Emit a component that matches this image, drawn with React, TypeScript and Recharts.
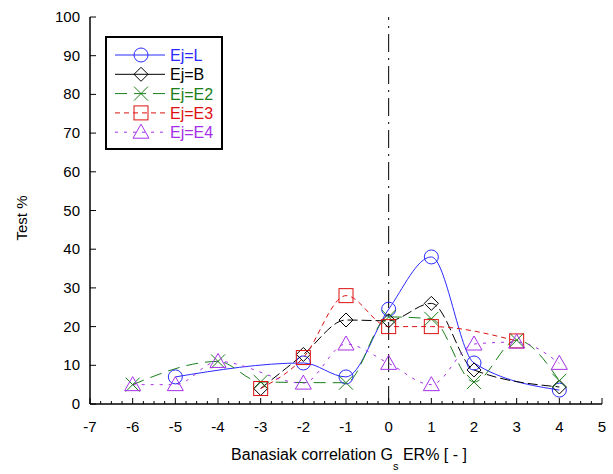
import React from 'react';
import { LineChart, XAxis, YAxis, Line, ReferenceLine } from 'recharts';

// values
const xTicks = [-7, -6, -5, -4, -3, -2, -1, 0, 1, 2, 3, 4, 5];
const yTicks = [0, 10, 20, 30, 40, 50, 60, 70, 80, 90, 100];

const ejL = [
  { x: -5, y: 7 }, { x: -2, y: 10.6 }, { x: -1, y: 7 }, { x: 0, y: 24.5 },
  { x: 1, y: 38 }, { x: 2, y: 10.6 }, { x: 4, y: 3.6 },
];
const ejB = [
  { x: -3, y: 4 }, { x: -2, y: 12.8 }, { x: -1, y: 21.7 }, { x: 0, y: 21.5 },
  { x: 1, y: 26 }, { x: 2, y: 8.8 }, { x: 4, y: 4.4 },
];
const ejE2 = [
  { x: -6, y: 5 }, { x: -4, y: 11 }, { x: -3, y: 5.7 }, { x: -1, y: 5.5 },
  { x: 0, y: 22.5 }, { x: 1, y: 22 }, { x: 2, y: 5.7 }, { x: 3, y: 16.5 }, { x: 4, y: 6 },
];
const ejE3 = [
  { x: -3, y: 4 }, { x: -2, y: 12 }, { x: -1, y: 28 }, { x: 0, y: 20 },
  { x: 1, y: 20 }, { x: 3, y: 16.3 },
];
const ejE4 = [
  { x: -6, y: 5 }, { x: -5, y: 5 }, { x: -4, y: 11 }, { x: -2, y: 5.4 },
  { x: -1, y: 15.5 }, { x: 0, y: 10.5 }, { x: 1, y: 5 }, { x: 2, y: 15.5 },
  { x: 3, y: 16 }, { x: 4, y: 10.5 },
];

// minor ticks: quarters on the bottom axis, halves on the top one
const bottomTicks: number[] = [];
for (let i = xTicks[0] * 4; i <= xTicks[xTicks.length - 1] * 4; i++) bottomTicks.push(i / 4);
const topTicks: number[] = [];
for (let i = xTicks[0] * 2; i <= xTicks[xTicks.length - 1] * 2; i++) topTicks.push(i / 2);

const FONT = '"Liberation Sans", Arial, sans-serif';

type Shape = 'circle' | 'diamond' | 'x' | 'square' | 'triangle';

const Marker = ({ shape, cx, cy, color }: { shape: Shape; cx: number; cy: number; color: string }) => {
  const s = 7;
  switch (shape) {
    case 'circle':
      return <circle cx={cx} cy={cy} r={s} fill="none" stroke={color} strokeWidth={1} />;
    case 'diamond':
      return <polygon points={`${cx},${cy - s} ${cx + s},${cy} ${cx},${cy + s} ${cx - s},${cy}`} fill="none" stroke={color} strokeWidth={1} />;
    case 'x':
      return <path d={`M${cx - s},${cy - s}L${cx + s},${cy + s}M${cx - s},${cy + s}L${cx + s},${cy - s}`} stroke={color} strokeWidth={1} />;
    case 'square':
      return <rect x={cx - s} y={cy - s} width={2 * s} height={2 * s} fill="none" stroke={color} strokeWidth={1} />;
    case 'triangle':
      return <polygon points={`${cx},${cy - s - 1} ${cx + s + 1},${cy + s - 1} ${cx - s - 1},${cy + s - 1}`} fill="none" stroke={color} strokeWidth={1} />;
  }
};

const series = [
  { name: 'Ej=L', data: ejL, color: '#2a2aff', shape: 'circle' as Shape, dash: undefined },
  { name: 'Ej=B', data: ejB, color: '#000000', shape: 'diamond' as Shape, dash: '10 4' },
  { name: 'Ej=E2', data: ejE2, color: '#1a7f1a', shape: 'x' as Shape, dash: '12 7' },
  { name: 'Ej=E3', data: ejE3, color: '#dd1111', shape: 'square' as Shape, dash: '5 4' },
  { name: 'Ej=E4', data: ejE4, color: '#a530e8', shape: 'triangle' as Shape, dash: '3 6' },
];

const BottomTick = (props: any) => {
  const { x, y, payload } = props;
  const v = payload.value;
  const major = Number.isInteger(v);
  return (
    <g>
      <line x1={x} y1={y} x2={x} y2={y - (major ? 6 : 3)} stroke="#000" strokeWidth={1} />
      {major && (
        <text x={x} y={y + 28} textAnchor="middle" fontSize={15} fontFamily={FONT} fill="#000">{v}</text>
      )}
    </g>
  );
};

const TopTick = (props: any) => {
  const { x, y, payload } = props;
  const major = Number.isInteger(payload.value);
  return <line x1={x} y1={y} x2={x} y2={y + (major ? 5 : 3)} stroke="#000" strokeWidth={1} />;
};

const LeftTick = (props: any) => {
  const { x, y, payload } = props;
  return (
    <g>
      <line x1={x} y1={y} x2={x + 6} y2={y} stroke="#000" strokeWidth={1} />
      <text x={x - 10} y={y + 5} textAnchor="end" fontSize={15} fontFamily={FONT} fill="#000">{payload.value}</text>
    </g>
  );
};

const RightTick = (props: any) => {
  const { x, y } = props;
  return <line x1={x} y1={y} x2={x - 6} y2={y} stroke="#000" strokeWidth={1} />;
};

const Legend = () => (
  <div style={{
    position: 'absolute', left: 105, top: 36, width: 114, height: 110,
    border: '2px solid #000', background: '#fff',
  }}>
    <svg width={114} height={110}>
      {series.map((s, i) => {
        const cy = 17 + i * 19.3;
        return (
          <g key={s.name}>
            <line x1={8} y1={cy} x2={58} y2={cy} stroke={s.color} strokeWidth={1} strokeDasharray={s.name === 'Ej=B' ? undefined : s.dash} />
            <Marker shape={s.shape} cx={34} cy={cy} color={s.color} />
            <text x={63} y={cy + 6} fontSize={16} fontFamily={FONT} fill={s.color}>{s.name}</text>
          </g>
        );
      })}
    </svg>
  </div>
);

export default function App() {
  return (
    <div style={{ position: 'relative', width: 613, height: 474, background: '#fff' }}>
      <style>{'body{margin:0;}'}</style>
      <LineChart width={613} height={474} margin={{ top: 17, right: 11, bottom: 40, left: 30 }}>
        <XAxis
          dataKey="x" type="number" domain={[-7, 5]} ticks={bottomTicks} interval={0}
          tickSize={0} tickMargin={0} height={30} tick={<BottomTick />}
          axisLine={{ stroke: '#000', strokeWidth: 1.5 }} allowDataOverflow
        />
        <XAxis
          xAxisId="top" orientation="top" dataKey="x" type="number" domain={[-7, 5]} ticks={topTicks}
          interval={0} tickSize={0} tickMargin={0} height={0} tick={<TopTick />}
          axisLine={{ stroke: '#000', strokeWidth: 1.5 }} allowDataOverflow
        />
        <YAxis
          type="number" domain={[0, 100]} ticks={yTicks} interval={0} width={60}
          tickSize={0} tickMargin={0} tick={<LeftTick />}
          axisLine={{ stroke: '#000', strokeWidth: 1.5 }} allowDataOverflow
        />
        <YAxis
          yAxisId="right" orientation="right" type="number" domain={[0, 100]} ticks={yTicks}
          interval={0} width={0} tickSize={0} tickMargin={0} tick={<RightTick />}
          axisLine={{ stroke: '#000', strokeWidth: 1.5 }} allowDataOverflow
        />
        <ReferenceLine x={0} stroke="#000" strokeWidth={1} strokeDasharray="18 6 2 6" />
        {series.map((s) => (
          <Line
            key={s.name}
            data={s.data}
            dataKey="y"
            name={s.name}
            type="monotone"
            stroke={s.color}
            strokeWidth={1}
            strokeDasharray={s.dash}
            isAnimationActive={false}
            dot={(p: any) => <Marker key={`${s.name}-${p.index}`} shape={s.shape} cx={p.cx} cy={p.cy} color={s.color} />}
            activeDot={false}
          />
        ))}
      </LineChart>
      <Legend />
      <svg width={613} height={474} style={{ position: 'absolute', left: 0, top: 0, pointerEvents: 'none' }}>
        <text x={349} y={460} textAnchor="middle" fontSize={16} fontFamily={FONT} fill="#000">
          Banasiak correlation G<tspan fontSize={11} dy={10}>s</tspan><tspan dy={-10}> ER% [ - ]</tspan>
        </text>
        <text x={27} y={218} textAnchor="middle" fontSize={15} fontFamily={FONT} fill="#000" transform="rotate(-90 27 218)">Test %</text>
      </svg>
    </div>
  );
}
